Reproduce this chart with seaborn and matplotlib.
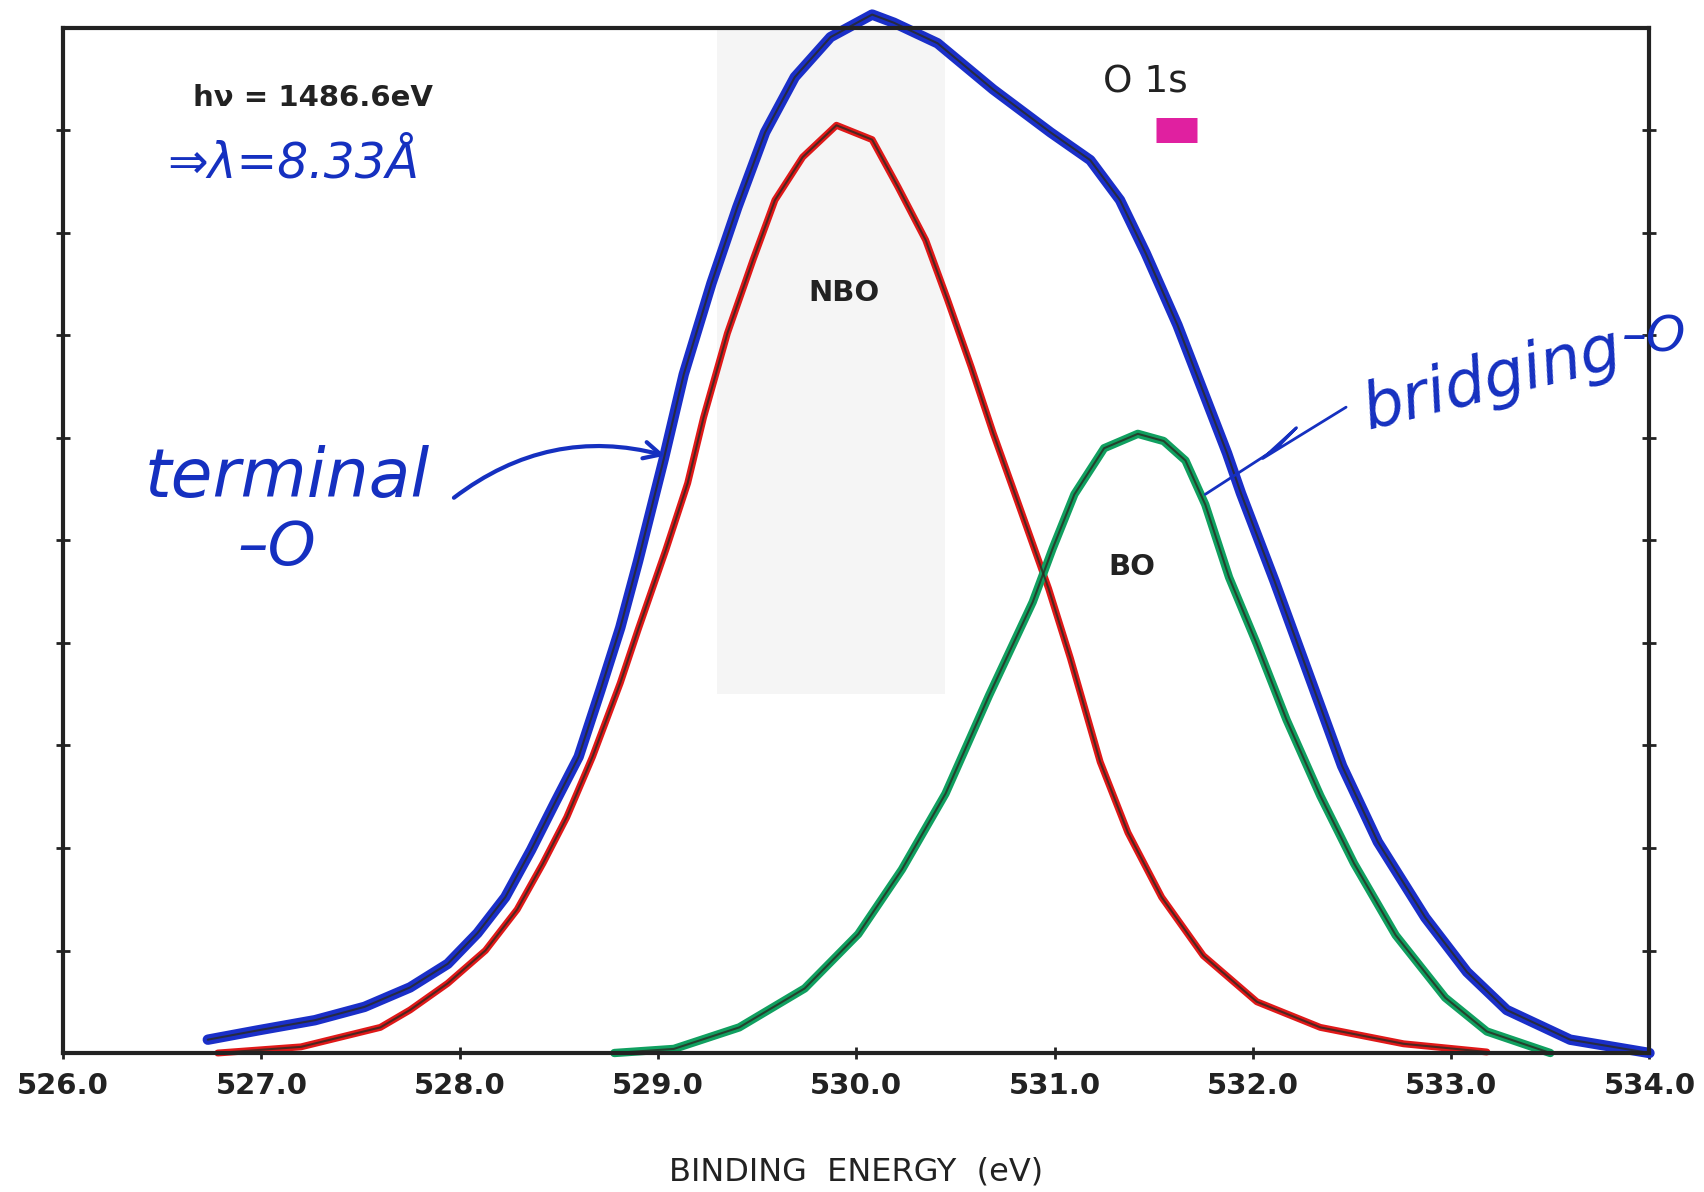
import numpy as np
import pandas as pd
import matplotlib
matplotlib.use("Agg")
import matplotlib.pyplot as plt
import seaborn as sns

# O 1s spectrum - envelope (total), NBO and BO components
total_x = [526.73, 526.98, 527.27, 527.52, 527.75, 527.94, 528.09, 528.23, 528.36,
           528.48, 528.6, 528.71, 528.81, 528.9, 529.03, 529.13, 529.27, 529.4,
           529.54, 529.69, 529.87, 530.08, 530.19, 530.41, 530.69, 530.98, 531.18,
           531.33, 531.46, 531.62, 531.78, 531.87, 531.94, 532.11, 532.28, 532.45,
           532.63, 532.87, 533.08, 533.28, 533.6, 534.0]
total_y = [0.13, 0.22, 0.32, 0.45, 0.64, 0.87, 1.17, 1.52, 1.98,
           2.44, 2.89, 3.54, 4.15, 4.8, 5.8, 6.62, 7.51, 8.25,
           8.98, 9.52, 9.91, 10.13, 10.05, 9.85, 9.4, 8.98, 8.71,
           8.32, 7.8, 7.1, 6.3, 5.85, 5.46, 4.6, 3.7, 2.8,
           2.06, 1.32, 0.79, 0.42, 0.13, 0.0]

nbo_x = [526.78, 527.2, 527.6, 527.75, 527.94, 528.13, 528.29, 528.42, 528.54,
         528.67, 528.81, 528.9, 529.04, 529.15, 529.23, 529.35, 529.48, 529.59,
         529.73, 529.9, 530.08, 530.21, 530.35, 530.46, 530.58, 530.69, 530.81,
         530.97, 531.08, 531.23, 531.37, 531.54, 531.75, 532.02, 532.34, 532.76,
         533.18]
nbo_y = [0.0, 0.06, 0.25, 0.42, 0.68, 1.0, 1.4, 1.85, 2.3,
         2.89, 3.61, 4.13, 4.91, 5.56, 6.2, 7.02, 7.74, 8.32,
         8.74, 9.05, 8.91, 8.45, 7.93, 7.35, 6.69, 6.05, 5.4,
         4.53, 3.85, 2.84, 2.15, 1.52, 0.95, 0.5, 0.25, 0.09,
         0.01]

bo_x = [528.78, 529.08, 529.41, 529.74, 530.01, 530.23, 530.45, 530.67, 530.89,
        530.99, 531.1, 531.25, 531.42, 531.55, 531.66, 531.76, 531.88, 532.02,
        532.17, 532.34, 532.51, 532.72, 532.97, 533.18, 533.5]
bo_y = [0.0, 0.04, 0.25, 0.63, 1.16, 1.79, 2.53, 3.49, 4.4,
        4.92, 5.45, 5.9, 6.04, 5.97, 5.78, 5.35, 4.64, 3.99,
        3.25, 2.51, 1.85, 1.15, 0.54, 0.21, 0.0]

xticks = [526.0, 527.0, 528.0, 529.0, 530.0, 531.0, 532.0, 533.0, 534.0]
xtick_labels = ["526.0", "527.0", "528.0", "529.0", "530.0", "531.0", "532.0", "533.0", "534.0"]

sns.set_theme(style="white")
plt.rcParams['font.family'] = ['DejaVu Sans']

fig = plt.figure(figsize=(17.04, 11.92), dpi=100)
ax = fig.add_axes([0.037, 0.1166, 0.931, 0.86])

# faint smudge from the scan
ax.axvspan(529.3, 530.45, ymin=0.35, ymax=1.0, color='#f5f5f5', zorder=0, lw=0)

df_tot = pd.DataFrame({"x": total_x, "y": total_y})
df_nbo = pd.DataFrame({"x": nbo_x, "y": nbo_y})
df_bo = pd.DataFrame({"x": bo_x, "y": bo_y})

# coloured marker strokes, thin dark pen line on top
sns.lineplot(data=df_nbo, x="x", y="y", ax=ax, color="#e01818", lw=5, sort=False)
sns.lineplot(data=df_bo, x="x", y="y", ax=ax, color="#10a060", lw=6, sort=False)
sns.lineplot(data=df_tot, x="x", y="y", ax=ax, color="#1a2fc8", lw=7.5, sort=False)
for d in (df_nbo, df_bo, df_tot):
    sns.lineplot(data=d, x="x", y="y", ax=ax, color="#2a2a22", lw=1.5, alpha=0.8, sort=False)
for ln in ax.get_lines():
    ln.set_clip_on(False)
    ln.set_solid_capstyle('round')
    ln.set_solid_joinstyle('round')

ax.set_xlim(526, 534)
ax.set_ylim(0, 10)
ax.set_xticks(xticks)
ax.set_xticklabels(xtick_labels, fontsize=21, fontweight='bold', color='#222222')
ax.set_yticks(range(1, 10))
ax.set_yticklabels([])
ax.tick_params(axis='y', direction='inout', length=10, width=2, left=True, right=True, colors='#222222')
ax.tick_params(axis='x', direction='inout', length=8, width=2, bottom=True, pad=10, colors='#222222')
for s in ax.spines.values():
    s.set_linewidth(3)
    s.set_color('#222222')

ax.set_xlabel("BINDING  ENERGY  (eV)", fontsize=23, labelpad=40, color='#222222')
ax.set_ylabel("")

# typed labels
ax.text(527.26, 9.32, "hν = 1486.6eV", fontsize=21, fontweight='bold', ha='center', va='center', color='#222222')
ax.text(531.46, 9.47, "O 1s", fontsize=27, ha='center', va='center', color='#222222')
ax.plot([531.51, 531.72], [9.0, 9.0], color='#e020a0', lw=18, solid_capstyle='butt')
ax.text(529.94, 7.41, "NBO", fontsize=21, fontweight='bold', ha='center', va='center', color='#222222')
ax.text(531.39, 4.74, "BO", fontsize=21, fontweight='bold', ha='center', va='center', color='#222222')

# handwritten notes
pen = '#1530c0'
ax.text(527.16, 8.68, "⇒λ=8.33Å", fontsize=35, style='italic', ha='center', va='center', color=pen)
ax.text(527.13, 5.61, "terminal", fontsize=49, style='italic', ha='center', va='center', color=pen)
ax.text(527.08, 4.92, "–O", fontsize=44, style='italic', ha='center', va='center', color=pen)
ax.annotate("", xy=(529.05, 5.82), xytext=(527.96, 5.40),
            arrowprops=dict(arrowstyle='->', color=pen, lw=3, mutation_scale=30,
                            connectionstyle='arc3,rad=-0.25'))
ax.text(533.21, 6.57, "bridging", fontsize=46, style='italic', ha='center', va='center',
        color=pen, rotation=14)
ax.text(533.86, 6.98, "–O", fontsize=36, style='italic', ha='left', va='center', color=pen, clip_on=False)
ax.plot([531.76, 532.12, 532.22, 532.05, 532.47], [5.45, 5.9, 6.1, 5.8, 6.3],
        color=pen, lw=2, clip_on=False)

fig.savefig("out.png", dpi=100)
